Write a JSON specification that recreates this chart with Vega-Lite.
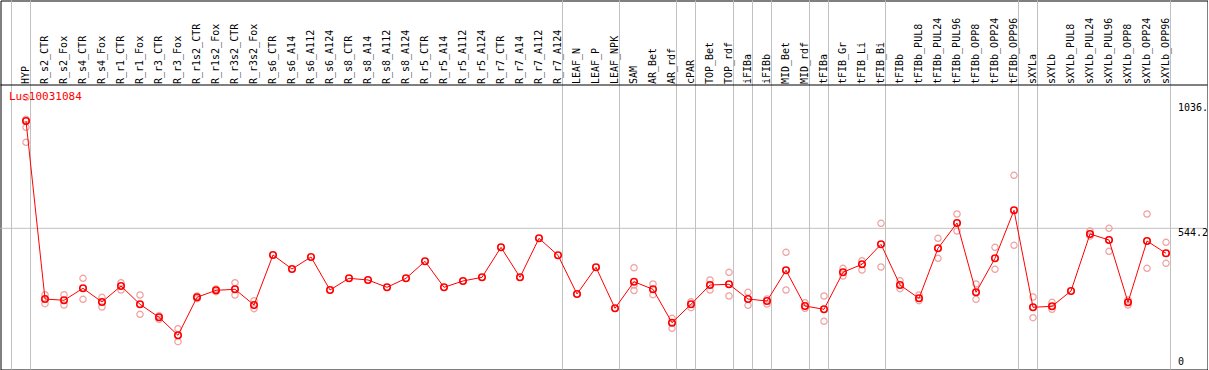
{
  "$schema": "https://vega.github.io/schema/vega-lite/v6.json",
  "width": 1207,
  "height": 369,
  "padding": {"left": 0.5, "top": 0.5, "right": 0, "bottom": 0},
  "autosize": {"type": "none"},
  "background": "white",
  "config": {"view": {"stroke": "black", "strokeWidth": 1}},
  "datasets": {
    "means": [
      {"sample": "HYP", "value": 963.7},
      {"sample": "R_s2_CTR", "value": 267.8},
      {"sample": "R_s2_Fox", "value": 262.7},
      {"sample": "R_s4_CTR", "value": 309.6},
      {"sample": "R_s4_Fox", "value": 256.1},
      {"sample": "R_r1_CTR", "value": 318.6},
      {"sample": "R_r1_Fox", "value": 247.1},
      {"sample": "R_r3_CTR", "value": 196.3},
      {"sample": "R_r3_Fox", "value": 125.9},
      {"sample": "R_r1s2_CTR", "value": 274.4},
      {"sample": "R_r1s2_Fox", "value": 301.8},
      {"sample": "R_r3s2_CTR", "value": 305.7},
      {"sample": "R_r3s2_Fox", "value": 244.3},
      {"sample": "R_s6_CTR", "value": 439.8},
      {"sample": "R_s6_A14", "value": 385.1},
      {"sample": "R_s6_A112", "value": 432.0},
      {"sample": "R_s6_A124", "value": 303.0},
      {"sample": "R_s8_CTR", "value": 348.7},
      {"sample": "R_s8_A14", "value": 342.1},
      {"sample": "R_s8_A112", "value": 313.5},
      {"sample": "R_s8_A124", "value": 348.7},
      {"sample": "R_r5_CTR", "value": 415.2},
      {"sample": "R_r5_A14", "value": 313.5},
      {"sample": "R_r5_A112", "value": 338.2},
      {"sample": "R_r5_A124", "value": 352.6},
      {"sample": "R_r7_CTR", "value": 469.9},
      {"sample": "R_r7_A14", "value": 352.6},
      {"sample": "R_r7_A112", "value": 505.1},
      {"sample": "R_r7_A124", "value": 438.6},
      {"sample": "LEAF_N", "value": 287.3},
      {"sample": "LEAF_P", "value": 391.7},
      {"sample": "LEAF_NPK", "value": 231.4},
      {"sample": "SAM", "value": 335.4},
      {"sample": "AR_Bet", "value": 305.7},
      {"sample": "AR_rdf", "value": 175.1},
      {"sample": "cPAR", "value": 247.1},
      {"sample": "TOP_Bet", "value": 322.5},
      {"sample": "TOP_rdf", "value": 325.3},
      {"sample": "iFIBa", "value": 267.8},
      {"sample": "iFIBb", "value": 260.0},
      {"sample": "MID_Bet", "value": 380.0},
      {"sample": "MID_rdf", "value": 240.4},
      {"sample": "tFIBa", "value": 227.5},
      {"sample": "tFIB_Gr", "value": 372.2},
      {"sample": "tFIB_Li", "value": 403.5},
      {"sample": "tFIB_Bi", "value": 481.6},
      {"sample": "tFIBb", "value": 322.5},
      {"sample": "tFIBb_PUL8", "value": 270.5},
      {"sample": "tFIBb_PUL24", "value": 466.0},
      {"sample": "tFIBb_PUL96", "value": 564.9},
      {"sample": "tFIBb_OPP8", "value": 294.0},
      {"sample": "tFIBb_OPP24", "value": 426.9},
      {"sample": "tFIBb_OPP96", "value": 614.6},
      {"sample": "sXYLa", "value": 235.4},
      {"sample": "sXYLb", "value": 239.3},
      {"sample": "sXYLb_PUL8", "value": 299.1},
      {"sample": "sXYLb_PUL24", "value": 521.9},
      {"sample": "sXYLb_PUL96", "value": 498.5},
      {"sample": "sXYLb_OPP8", "value": 254.9},
      {"sample": "sXYLb_OPP24", "value": 494.5},
      {"sample": "sXYLb_OPP96", "value": 446.5}
    ],
    "reps": [
      {"sample": "HYP", "value": 1056.3},
      {"sample": "HYP", "value": 970.3},
      {"sample": "HYP", "value": 939.1},
      {"sample": "HYP", "value": 880.4},
      {"sample": "R_s2_CTR", "value": 284.6},
      {"sample": "R_s2_CTR", "value": 249.4},
      {"sample": "R_s2_Fox", "value": 284.6},
      {"sample": "R_s2_Fox", "value": 244.3},
      {"sample": "R_s4_CTR", "value": 348.7},
      {"sample": "R_s4_CTR", "value": 266.6},
      {"sample": "R_s4_Fox", "value": 274.4},
      {"sample": "R_s4_Fox", "value": 236.5},
      {"sample": "R_r1_CTR", "value": 331.5},
      {"sample": "R_r1_CTR", "value": 303.0},
      {"sample": "R_r1_Fox", "value": 283.4},
      {"sample": "R_r1_Fox", "value": 208.0},
      {"sample": "R_r3_CTR", "value": 202.5},
      {"sample": "R_r3_CTR", "value": 188.4},
      {"sample": "R_r3_Fox", "value": 151.7},
      {"sample": "R_r3_Fox", "value": 100.9},
      {"sample": "R_r1s2_CTR", "value": 279.5},
      {"sample": "R_r1s2_CTR", "value": 269.0},
      {"sample": "R_r1s2_Fox", "value": 306.9},
      {"sample": "R_r1s2_Fox", "value": 296.3},
      {"sample": "R_r3s2_CTR", "value": 331.5},
      {"sample": "R_r3s2_CTR", "value": 283.4},
      {"sample": "R_r3s2_Fox", "value": 261.2},
      {"sample": "R_r3s2_Fox", "value": 229.9},
      {"sample": "SAM", "value": 390.0},
      {"sample": "SAM", "value": 322.5},
      {"sample": "SAM", "value": 301.0},
      {"sample": "AR_Bet", "value": 326.4},
      {"sample": "AR_Bet", "value": 284.6},
      {"sample": "AR_rdf", "value": 192.3},
      {"sample": "AR_rdf", "value": 153.3},
      {"sample": "cPAR", "value": 257.2},
      {"sample": "cPAR", "value": 233.8},
      {"sample": "TOP_Bet", "value": 342.1},
      {"sample": "TOP_Bet", "value": 303.0},
      {"sample": "TOP_rdf", "value": 372.2},
      {"sample": "TOP_rdf", "value": 279.5},
      {"sample": "iFIBa", "value": 294.0},
      {"sample": "iFIBa", "value": 243.2},
      {"sample": "iFIBb", "value": 267.8},
      {"sample": "iFIBb", "value": 248.3},
      {"sample": "MID_Bet", "value": 450.4},
      {"sample": "MID_Bet", "value": 303.0},
      {"sample": "MID_rdf", "value": 253.3},
      {"sample": "MID_rdf", "value": 231.4},
      {"sample": "tFIBa", "value": 279.5},
      {"sample": "tFIBa", "value": 180.6},
      {"sample": "tFIB_Gr", "value": 387.8},
      {"sample": "tFIB_Gr", "value": 357.7},
      {"sample": "tFIB_Li", "value": 417.5},
      {"sample": "tFIB_Li", "value": 381.2},
      {"sample": "tFIB_Bi", "value": 563.8},
      {"sample": "tFIB_Bi", "value": 392.9},
      {"sample": "tFIBb", "value": 339.3},
      {"sample": "tFIBb", "value": 308.1},
      {"sample": "tFIBb_PUL8", "value": 283.4},
      {"sample": "tFIBb_PUL8", "value": 261.2},
      {"sample": "tFIBb_PUL24", "value": 505.1},
      {"sample": "tFIBb_PUL24", "value": 426.9},
      {"sample": "tFIBb_PUL96", "value": 600.1},
      {"sample": "tFIBb_PUL96", "value": 533.6},
      {"sample": "tFIBb_OPP8", "value": 326.4},
      {"sample": "tFIBb_OPP8", "value": 266.6},
      {"sample": "tFIBb_OPP24", "value": 469.9},
      {"sample": "tFIBb_OPP24", "value": 383.9},
      {"sample": "tFIBb_OPP96", "value": 751.4},
      {"sample": "tFIBb_OPP96", "value": 477.7},
      {"sample": "sXYLa", "value": 275.6},
      {"sample": "sXYLa", "value": 194.7},
      {"sample": "sXYLb", "value": 254.9},
      {"sample": "sXYLb", "value": 227.5},
      {"sample": "sXYLb_PUL24", "value": 533.6},
      {"sample": "sXYLb_PUL24", "value": 514.1},
      {"sample": "sXYLb_PUL96", "value": 544.2},
      {"sample": "sXYLb_PUL96", "value": 454.3},
      {"sample": "sXYLb_OPP8", "value": 263.9},
      {"sample": "sXYLb_OPP8", "value": 244.3},
      {"sample": "sXYLb_OPP24", "value": 600.1},
      {"sample": "sXYLb_OPP24", "value": 387.8},
      {"sample": "sXYLb_OPP96", "value": 489.5},
      {"sample": "sXYLb_OPP96", "value": 407.4}
    ],
    "groupEnds": [
      {"sample": "HYP"},
      {"sample": "R_r7_A124"},
      {"sample": "LEAF_NPK"},
      {"sample": "AR_rdf"},
      {"sample": "cPAR"},
      {"sample": "TOP_rdf"},
      {"sample": "iFIBa"},
      {"sample": "iFIBb"},
      {"sample": "MID_rdf"},
      {"sample": "tFIBa"},
      {"sample": "tFIB_Bi"},
      {"sample": "tFIBb_OPP96"},
      {"sample": "sXYLa"},
      {"sample": "sXYLb_OPP96"}
    ]
  },
  "encoding": {
    "x": {
      "field": "sample",
      "type": "nominal",
      "axis": null,
      "scale": {
        "type": "band",
        "paddingInner": 0,
        "paddingOuter": 0,
        "range": [16, 1175],
        "domain": ["HYP","R_s2_CTR","R_s2_Fox","R_s4_CTR","R_s4_Fox","R_r1_CTR","R_r1_Fox","R_r3_CTR","R_r3_Fox","R_r1s2_CTR","R_r1s2_Fox","R_r3s2_CTR","R_r3s2_Fox","R_s6_CTR","R_s6_A14","R_s6_A112","R_s6_A124","R_s8_CTR","R_s8_A14","R_s8_A112","R_s8_A124","R_r5_CTR","R_r5_A14","R_r5_A112","R_r5_A124","R_r7_CTR","R_r7_A14","R_r7_A112","R_r7_A124","LEAF_N","LEAF_P","LEAF_NPK","SAM","AR_Bet","AR_rdf","cPAR","TOP_Bet","TOP_rdf","iFIBa","iFIBb","MID_Bet","MID_rdf","tFIBa","tFIB_Gr","tFIB_Li","tFIB_Bi","tFIBb","tFIBb_PUL8","tFIBb_PUL24","tFIBb_PUL96","tFIBb_OPP8","tFIBb_OPP24","tFIBb_OPP96","sXYLa","sXYLb","sXYLb_PUL8","sXYLb_PUL24","sXYLb_PUL96","sXYLb_OPP8","sXYLb_OPP24","sXYLb_OPP96"]
      }
    }
  },
  "layer": [
    {
      "data": {"name": "groupEnds"},
      "mark": {"type": "rule", "color": "#c0c0c0", "strokeWidth": 1},
      "encoding": {
        "x": {"field": "sample", "type": "nominal", "bandPosition": 0.737}
      }
    },
    {
      "data": {"values": [{"sample": "HYP"}]},
      "mark": {"type": "rule", "color": "#c0c0c0", "strokeWidth": 1},
      "encoding": {
        "x": {"field": "sample", "type": "nominal", "bandPosition": -0.263}
      }
    },
    {
      "data": {"values": [{"v": 544.2}]},
      "mark": {"type": "rule", "color": "#c0c0c0", "strokeWidth": 1},
      "encoding": {
        "x": null,
        "y": {"field": "v", "type": "quantitative", "axis": null, "scale": {"domain": [-7.82, 1434.8], "nice": false, "zero": false}}
      }
    },
    {
      "data": {"values": [{"v": 1104.4}]},
      "mark": {"type": "rule", "color": "black", "strokeWidth": 1},
      "encoding": {
        "x": null,
        "y": {"field": "v", "type": "quantitative"}
      }
    },
    {
      "data": {"name": "reps"},
      "mark": {"type": "point", "shape": "circle", "filled": false, "color": "#f0a0a0", "strokeWidth": 1.2, "size": 40, "opacity": 1},
      "encoding": {
        "y": {"field": "value", "type": "quantitative"}
      }
    },
    {
      "data": {"name": "means"},
      "mark": {"type": "line", "color": "#ff0000", "strokeWidth": 1},
      "encoding": {
        "y": {"field": "value", "type": "quantitative"},
        "order": {"value": null}
      }
    },
    {
      "data": {"name": "means"},
      "mark": {"type": "point", "shape": "circle", "filled": false, "color": "#ff0000", "strokeWidth": 1.6, "size": 42, "opacity": 1},
      "encoding": {
        "y": {"field": "value", "type": "quantitative"}
      }
    },
    {
      "data": {"name": "means"},
      "mark": {"type": "text", "angle": 270, "align": "left", "baseline": "middle", "font": "DejaVu Sans Mono", "fontSize": 10, "color": "black"},
      "encoding": {
        "y": {"datum": 1108.3, "type": "quantitative"},
        "text": {"field": "sample"}
      }
    },
    {
      "data": {"values": [{"sample": "sXYLb_OPP96", "v": 1036, "label": "1036."}, {"sample": "sXYLb_OPP96", "v": 544.2, "label": "544.2"}]},
      "mark": {"type": "text", "align": "left", "baseline": "top", "dx": 12, "font": "DejaVu Sans Mono", "fontSize": 10, "color": "black"},
      "encoding": {
        "y": {"field": "v", "type": "quantitative"},
        "text": {"field": "label"}
      }
    },
    {
      "data": {"values": [{"sample": "sXYLb_OPP96", "v": 0, "label": "0"}]},
      "mark": {"type": "text", "align": "left", "baseline": "bottom", "dx": 12, "font": "DejaVu Sans Mono", "fontSize": 10, "color": "black"},
      "encoding": {
        "y": {"field": "v", "type": "quantitative"},
        "text": {"field": "label"}
      }
    },
    {
      "data": {"values": [{"sample": "HYP", "v": 1056.3, "label": "Lus10031084"}]},
      "mark": {"type": "text", "align": "left", "baseline": "middle", "dx": -17, "font": "DejaVu Sans Mono", "fontSize": 11, "color": "#ff0000"},
      "encoding": {
        "y": {"field": "v", "type": "quantitative"},
        "text": {"field": "label"}
      }
    }
  ]
}
